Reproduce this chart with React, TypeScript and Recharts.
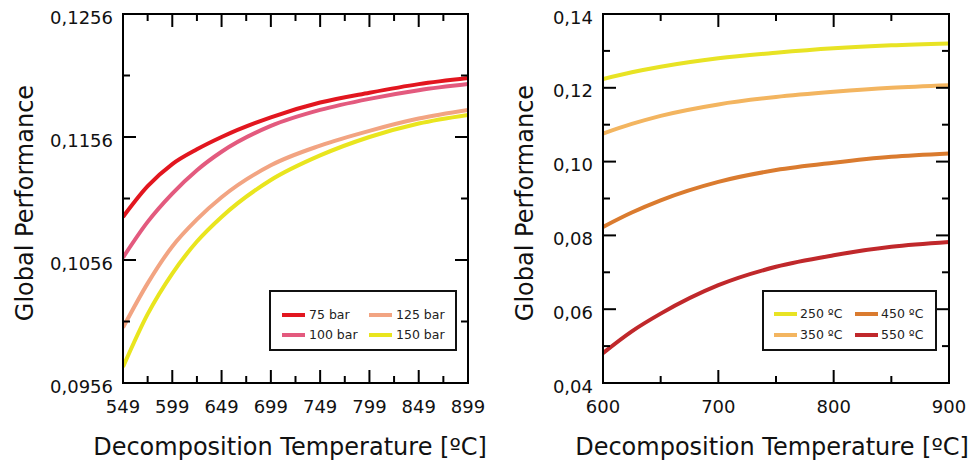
import React from 'react';
import { LineChart, Line, XAxis, YAxis, Legend } from 'recharts';

const FONT = '"DejaVu Sans", Verdana, sans-serif';

// ---------- Left chart data (pressure series) ----------
const leftTemps = [549, 574, 599, 624, 649, 699, 749, 799, 849, 899];
const bar75 = [0.1091, 0.1116, 0.1134, 0.1146, 0.1156, 0.1172, 0.1184, 0.1192, 0.1199, 0.1204];
const bar100 = [0.1058, 0.1087, 0.1110, 0.1129, 0.1144, 0.1165, 0.1178, 0.1187, 0.1194, 0.1199];
const bar125 = [0.1001, 0.1037, 0.1067, 0.1089, 0.1107, 0.1133, 0.1149, 0.1161, 0.1171, 0.1178];
const bar150 = [0.0969, 0.1012, 0.1045, 0.1071, 0.1091, 0.1121, 0.1141, 0.1156, 0.1167, 0.1174];
const leftNames = ['75 bar', '100 bar', '125 bar', '150 bar'];
const leftColors = ['#e2161f', '#e35a7e', '#f2a482', '#e9e51e'];

const leftXTicks = [549, 574, 599, 624, 649, 674, 699, 724, 749, 774, 799, 824, 849, 874, 899];
const leftXMajor = [549, 599, 649, 699, 749, 799, 849, 899];
const leftYTicks = [0.0956, 0.1006, 0.1056, 0.1106, 0.1156, 0.1206, 0.1256];
const leftYMajor = [0.0956, 0.1056, 0.1156, 0.1256];

// ---------- Right chart data (temperature series) ----------
const rightTemps = [600, 625, 650, 700, 750, 800, 850, 900];
const c250 = [0.1224, 0.1242, 0.1257, 0.1280, 0.1295, 0.1307, 0.1315, 0.1320];
const c350 = [0.1076, 0.1102, 0.1124, 0.1155, 0.1175, 0.1189, 0.1200, 0.1207];
const c450 = [0.0823, 0.0862, 0.0895, 0.0945, 0.0977, 0.0997, 0.1013, 0.1022];
const c550 = [0.0481, 0.0540, 0.0588, 0.0665, 0.0715, 0.0746, 0.0769, 0.0782];
const rightNames = ['250 ºC', '350 ºC', '450 ºC', '550 ºC'];
const rightColors = ['#e8e324', '#f3b560', '#da7b2f', '#c0282b'];

const rightXTicks = [600, 650, 700, 750, 800, 850, 900];
const rightXMajor = [600, 700, 800, 900];
const rightYTicks = [0.04, 0.05, 0.06, 0.07, 0.08, 0.09, 0.1, 0.11, 0.12, 0.13, 0.14];
const rightYMajor = [0.04, 0.06, 0.08, 0.1, 0.12, 0.14];

const xTitle = 'Decomposition Temperature [ºC]';
const yTitle = 'Global Performance';

const leftData = leftTemps.map((t, i) => ({
  t,
  s0: bar75[i],
  s1: bar100[i],
  s2: bar125[i],
  s3: bar150[i],
}));
const rightData = rightTemps.map((t, i) => ({
  t,
  s0: c250[i],
  s1: c350[i],
  s2: c450[i],
  s3: c550[i],
}));

const MAJOR = 13;
const MINOR = 7;

type Side = 'bottom' | 'top' | 'left' | 'right';

function makeTick(side: Side, majors: number[], fmt?: (v: number) => string) {
  return (props: any) => {
    const { x, y, payload } = props;
    const v = Number(payload.value);
    const major = majors.some((m) => Math.abs(m - v) < 1e-9);
    const len = major ? MAJOR : MINOR;
    let line: any = null;
    let label: any = null;
    if (side === 'bottom') {
      line = <line x1={x} y1={y} x2={x} y2={y - len} stroke="#000" strokeWidth={2} />;
      if (major && fmt)
        label = (
          <text x={x} y={y + 30} textAnchor="middle" fontSize={18} fontFamily={FONT} fill="#111">
            {fmt(v)}
          </text>
        );
    } else if (side === 'top') {
      line = <line x1={x} y1={y} x2={x} y2={y + len} stroke="#000" strokeWidth={2} />;
    } else if (side === 'left') {
      line = <line x1={x} y1={y} x2={x + len} y2={y} stroke="#000" strokeWidth={2} />;
      if (major && fmt)
        label = (
          <text x={x - 10} y={y + 9.5} textAnchor="end" fontSize={18} fontFamily={FONT} fill="#111">
            {fmt(v)}
          </text>
        );
    } else {
      line = <line x1={x} y1={y} x2={x - len} y2={y} stroke="#000" strokeWidth={2} />;
    }
    return (
      <g>
        {line}
        {label}
      </g>
    );
  };
}

const comma = (digits: number) => (v: number) => v.toFixed(digits).replace('.', ',');
const intFmt = (v: number) => String(Math.round(v));

function makeXTitle(cx: number) {
  return (props: any) => (
    <text x={cx} y={455} textAnchor="middle" fontSize={24} fontFamily={FONT} fill="#111">
      {xTitle}
    </text>
  );
}

function makeYTitle(bx: number, cy: number) {
  return (props: any) => (
    <text
      transform={`translate(${bx}, ${cy}) rotate(-90)`}
      x={0}
      y={0}
      textAnchor="middle"
      fontSize={24}
      fontFamily={FONT}
      fill="#111"
    >
      {yTitle}
    </text>
  );
}

function makeLegend(names: string[], colX: number[], rowY: number[], lineLen: number, textGap: number) {
  return (props: any) => {
    const payload = [...(props.payload || [])].sort(
      (a: any, b: any) => names.indexOf(a.value) - names.indexOf(b.value)
    );
    return (
      <div
        style={{
          position: 'relative',
          width: '100%',
          height: '100%',
          boxSizing: 'border-box',
          border: '2px solid #111',
          background: '#fff',
          fontFamily: FONT,
        }}
      >
        {payload.map((item: any, i: number) => {
          const col = Math.floor(i / 2);
          const row = i % 2;
          return (
            <div
              key={i}
              style={{
                position: 'absolute',
                left: colX[col],
                top: rowY[row] - 8,
                height: 16,
                display: 'flex',
                alignItems: 'center',
                whiteSpace: 'nowrap',
              }}
            >
              <span
                style={{
                  display: 'inline-block',
                  width: lineLen,
                  height: 4,
                  background: item.color,
                  marginRight: textGap,
                }}
              />
              <span style={{ fontSize: 12.5, color: '#222', lineHeight: '16px' }}>{item.value}</span>
            </div>
          );
        })}
      </div>
    );
  };
}

const axisLine = { stroke: '#000', strokeWidth: 2, strokeLinecap: 'square' as const };

export default function App() {
  return (
    <div
      style={{
        position: 'absolute',
        left: 0,
        top: 0,
        width: 971,
        height: 466,
        background: '#fff',
        overflow: 'hidden',
      }}
    >
      <div style={{ position: 'absolute', left: 0, top: 0 }}>
        <LineChart
          width={490}
          height={466}
          data={leftData}
          margin={{ top: 13, right: 21, bottom: 82, left: 122 }}
        >
          {leftNames.map((n, i) => (
            <Line
              key={n}
              type="monotone"
              dataKey={`s${i}`}
              name={n}
              stroke={leftColors[i]}
              strokeWidth={4}
              dot={false}
              activeDot={false}
              isAnimationActive={false}
            />
          ))}
          <XAxis
            dataKey="t"
            type="number"
            domain={[549, 899]}
            ticks={leftXTicks}
            interval={0}
            height={1}
            tickSize={0}
            tickMargin={0}
            tickLine={false}
            axisLine={axisLine}
            tick={makeTick('bottom', leftXMajor, intFmt)}
            label={{ content: makeXTitle(290) }}
            allowDataOverflow
          />
          <XAxis
            xAxisId="top"
            orientation="top"
            dataKey="t"
            type="number"
            domain={[549, 899]}
            ticks={leftXTicks}
            interval={0}
            height={1}
            tickSize={0}
            tickMargin={0}
            tickLine={false}
            axisLine={axisLine}
            tick={makeTick('top', leftXMajor)}
            allowDataOverflow
          />
          <YAxis
            type="number"
            domain={[0.0956, 0.1256]}
            ticks={leftYTicks}
            interval={0}
            width={1}
            tickSize={0}
            tickMargin={0}
            tickLine={false}
            axisLine={axisLine}
            tick={makeTick('left', leftYMajor, comma(4))}
            label={{ content: makeYTitle(33, 203) }}
            allowDataOverflow
          />
          <YAxis
            yAxisId="right"
            orientation="right"
            type="number"
            domain={[0.0956, 0.1256]}
            ticks={leftYTicks}
            interval={0}
            width={1}
            tickSize={0}
            tickMargin={0}
            tickLine={false}
            axisLine={axisLine}
            tick={makeTick('right', leftYMajor)}
            allowDataOverflow
          />
          <Legend
            layout="vertical"
            align="center"
            verticalAlign="middle"
            itemSorter={(item: any) => leftNames.indexOf(item.value)}
            content={makeLegend(leftNames, [11, 98], [23, 43], 23, 4)}
            wrapperStyle={{ left: 269, top: 290, width: 188, height: 61, bottom: 'auto', right: 'auto' }}
          />
        </LineChart>
      </div>

      <div style={{ position: 'absolute', left: 490, top: 0 }}>
        <LineChart
          width={481}
          height={466}
          data={rightData}
          margin={{ top: 13, right: 21, bottom: 82, left: 112 }}
        >
          {rightNames.map((n, i) => (
            <Line
              key={n}
              type="monotone"
              dataKey={`s${i}`}
              name={n}
              stroke={rightColors[i]}
              strokeWidth={4}
              dot={false}
              activeDot={false}
              isAnimationActive={false}
            />
          ))}
          <XAxis
            dataKey="t"
            type="number"
            domain={[600, 900]}
            ticks={rightXTicks}
            interval={0}
            height={1}
            tickSize={0}
            tickMargin={0}
            tickLine={false}
            axisLine={axisLine}
            tick={makeTick('bottom', rightXMajor, intFmt)}
            label={{ content: makeXTitle(282) }}
            allowDataOverflow
          />
          <XAxis
            xAxisId="top"
            orientation="top"
            dataKey="t"
            type="number"
            domain={[600, 900]}
            ticks={rightXTicks}
            interval={0}
            height={1}
            tickSize={0}
            tickMargin={0}
            tickLine={false}
            axisLine={axisLine}
            tick={makeTick('top', rightXMajor)}
            allowDataOverflow
          />
          <YAxis
            type="number"
            domain={[0.04, 0.14]}
            ticks={rightYTicks}
            interval={0}
            width={1}
            tickSize={0}
            tickMargin={0}
            tickLine={false}
            axisLine={axisLine}
            tick={makeTick('left', rightYMajor, comma(2))}
            label={{ content: makeYTitle(43, 203) }}
            allowDataOverflow
          />
          <YAxis
            yAxisId="right"
            orientation="right"
            type="number"
            domain={[0.04, 0.14]}
            ticks={rightYTicks}
            interval={0}
            width={1}
            tickSize={0}
            tickMargin={0}
            tickLine={false}
            axisLine={axisLine}
            tick={makeTick('right', rightYMajor)}
            allowDataOverflow
          />
          <Legend
            layout="vertical"
            align="center"
            verticalAlign="middle"
            itemSorter={(item: any) => rightNames.indexOf(item.value)}
            content={makeLegend(rightNames, [10, 91], [22, 43], 23, 3)}
            wrapperStyle={{ left: 272, top: 290, width: 175, height: 61, bottom: 'auto', right: 'auto' }}
          />
        </LineChart>
      </div>
    </div>
  );
}
